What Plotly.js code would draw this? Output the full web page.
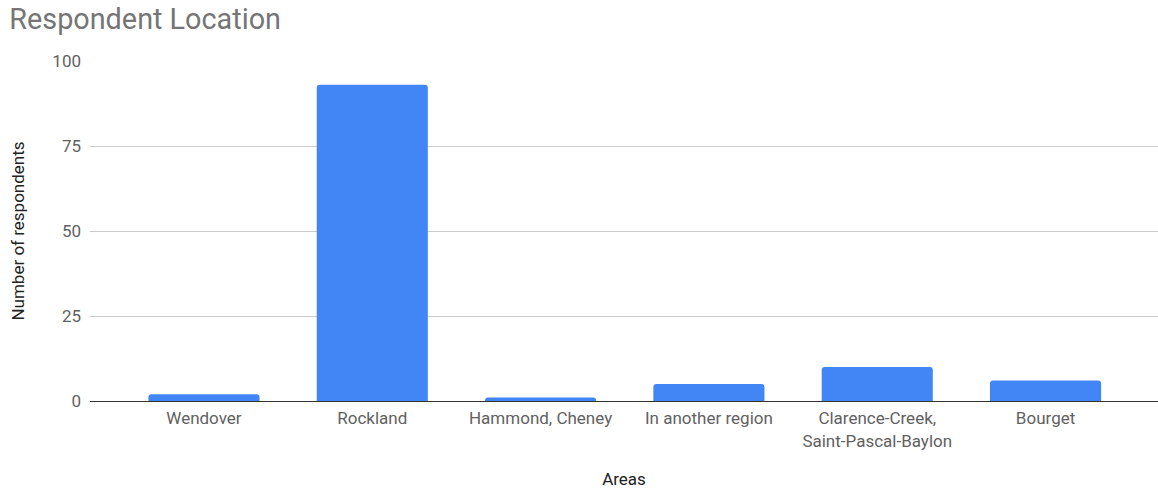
<!DOCTYPE html>
<html>
<head>
<meta charset="utf-8">
<script src="https://cdn.plot.ly/plotly-3.0.1.min.js"></script>
<style>html,body{margin:0;padding:0;background:#fff;}#chart{width:1158px;height:493px;}</style>
</head>
<body>
<div id="chart"></div>
<script>
const categories = ["Wendover", "Rockland", "Hammond, Cheney", "In another region", "Clarence-Creek,<br>Saint-Pascal-Baylon", "Bourget"];
const respondents = [2, 93, 1, 5, 10, 6];
const yTicks = [0, 25, 50, 75, 100];

const trace = {
  type: "bar",
  x: categories,
  y: respondents,
  marker: { color: "#4285f4", cornerradius: 3 },
  hoverinfo: "x+y"
};

const layout = {
  width: 1158,
  height: 493,
  margin: { l: 90, r: 0, t: 61, b: 92 },
  paper_bgcolor: "#ffffff",
  plot_bgcolor: "#ffffff",
  font: { family: "Roboto, Arial, sans-serif", color: "#616161", size: 17 },
  title: {
    text: "Respondent Location",
    font: { family: "Roboto, Arial, sans-serif", size: 28.8, color: "#757575" },
    x: 0.008, xanchor: "left", xref: "container",
    y: 0.962, yanchor: "middle", yref: "container"
  },
  bargap: 0.34,
  xaxis: {
    type: "category",
    range: [-0.677, 5.668],
    showgrid: false,
    showline: true,
    linecolor: "#333333",
    linewidth: 1,
    ticks: "",
    ticklabelstandoff: 2,
    tickfont: { size: 17, color: "#616161" },
    title: { text: "Areas", font: { size: 17, color: "#222222" }, standoff: 23 },
    automargin: false
  },
  yaxis: {
    range: [0, 100],
    tickvals: yTicks,
    ticktext: yTicks.map(String),
    showgrid: true,
    gridcolor: "#cccccc",
    gridwidth: 1,
    zeroline: false,
    showline: false,
    ticks: "",
    ticklabelstandoff: 8,
    tickfont: { size: 17, color: "#616161" },
    title: { text: "Number of respondents", font: { size: 17, color: "#222222" }, standoff: 23 },
    automargin: false
  },
  showlegend: false
};

Plotly.newPlot("chart", [trace], layout, { displayModeBar: false, staticPlot: true });
</script>
</body>
</html>
